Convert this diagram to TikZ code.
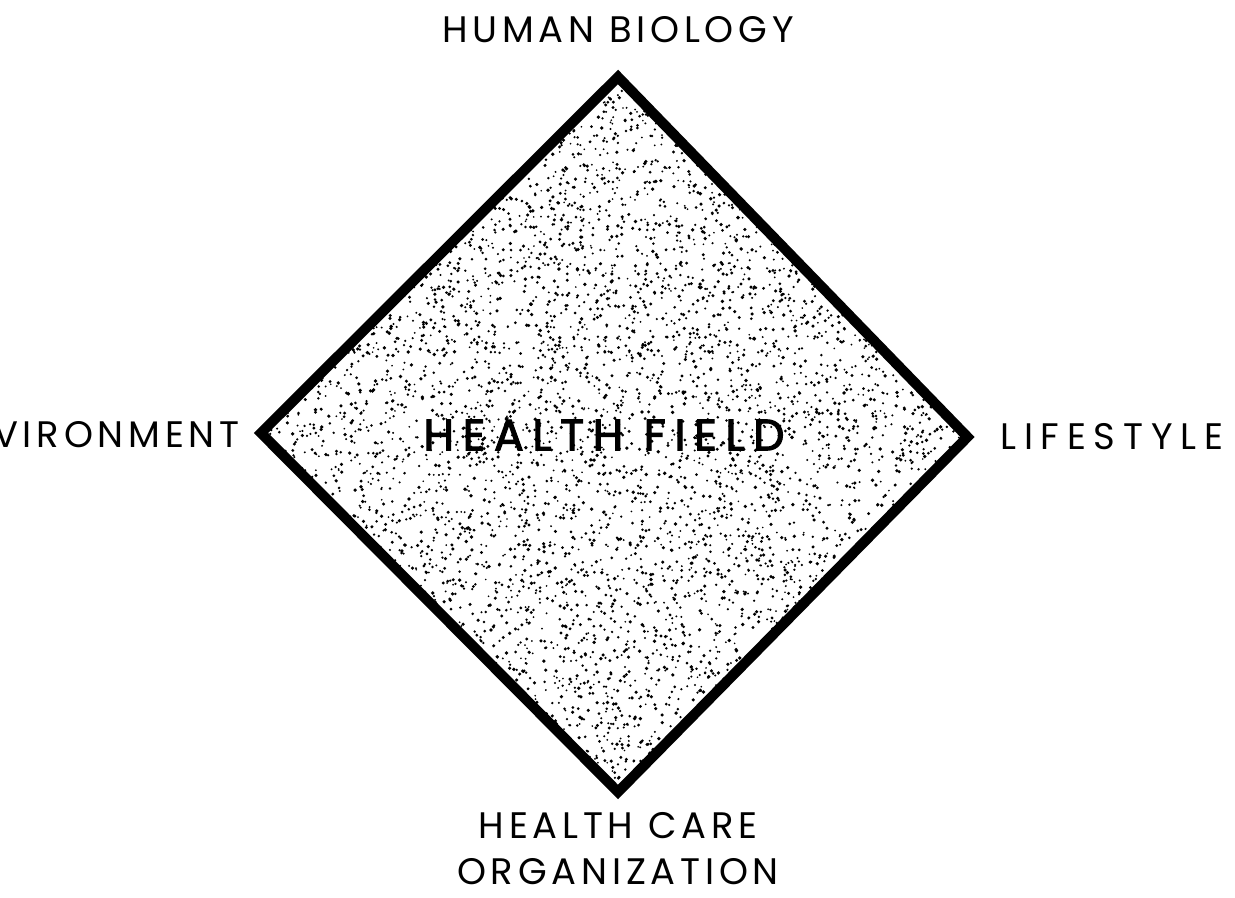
\documentclass[tikz,border=0pt]{standalone}
\usepackage{fontspec}
\setmainfont{Poppins}
\newfontfamily\heavyfont[FakeBold=2.6,LetterSpace=20]{Poppins}
\newfontfamily\lblfont[LetterSpace=13]{Poppins}
\newfontfamily\lblwide[LetterSpace=21]{Poppins}
\usepackage{tikz}
\usetikzlibrary{positioning}
\tikzset{
  corner/.style={
    font=\lblfont\fontsize{21}{26}\selectfont,
    align=center,
    inner sep=0pt
    },
  field/.style={
    font=\heavyfont\fontsize{25}{30}\selectfont,
    inner sep=0pt
    },
  frame/.style={line width=5.8pt, line join=miter},
}

\begin{document}
\begin{tikzpicture}[
            node distance = 0.6cm % labels to corners
        ]
         \useasboundingbox (0,0) rectangle (24.7,17.96);
         \clip (0,0) rectangle (24.7,17.96);

         % corners of the field
         \coordinate (top) at (12.36,16.42);
         \coordinate (rgt) at (19.35,9.22);
         \coordinate (bot) at (12.36,2.12);
         \coordinate (lft) at (5.22,9.30);

         % stippled inside
         \begin{scope}
           \clip (top) -- (rgt) -- (bot) -- (lft) -- cycle;
           \pgfmathsetseed{1974}
           \foreach \i in {1,...,8500}
             \fill (5.2+14.2*rnd,2.1+14.3*rnd) circle (0.018+0.02*rnd);
         \end{scope}
         \draw[frame] (top) -- (rgt) -- (bot) -- (lft) -- cycle;

         \node[field] (hf) at (12.08,9.26) {HEALTH FIELD};

         \node[corner, anchor=south] (hb) at ([yshift=0.67cm]top) {HUMAN BIOLOGY};
         \node[corner, anchor=west, font=\lblwide\fontsize{21}{26}\selectfont] (ls) at ([xshift=0.65cm]rgt) {LIFESTYLE};
         \node[corner, anchor=east] (en) at ([xshift=-0.42cm,yshift=-0.04cm]lft) {ENVIRONMENT};
         \node[corner, anchor=north] (hc) at ([yshift=-0.40cm]bot) {HEALTH CARE\\ORGANIZATION};
\end{tikzpicture}
\end{document}
